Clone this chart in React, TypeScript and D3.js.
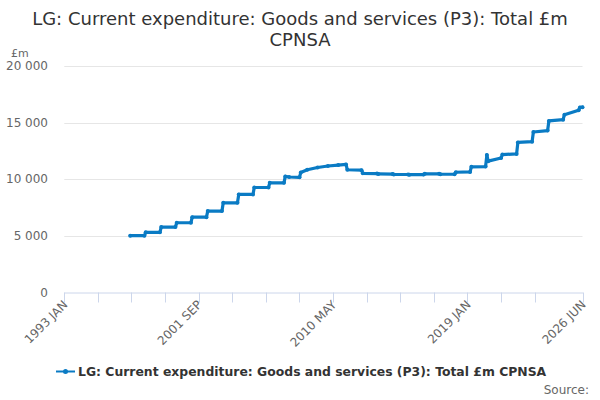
import { useEffect, useRef } from 'react';
import * as d3 from 'd3';

const titleLines = ['LG: Current expenditure: Goods and services (P3): Total £m', 'CPNSA'];
const seriesName = 'LG: Current expenditure: Goods and services (P3): Total £m CPNSA';
const unitLabel = '£m';
const sourceLabel = 'Source:';

// monthly categories, 1993 JAN .. 2026 JUN
const months = d3
  .utcMonth.range(new Date(Date.UTC(1993, 0, 1)), new Date(Date.UTC(2026, 6, 1)))
  .map((d) => d3.utcFormat('%Y %b')(d).toUpperCase());

// vertices of the series
const pointMonths = [
  '1997 APR', '1998 MAR', '1998 APR', '1999 MAR', '1999 APR', '2000 MAR',
  '2000 APR', '2001 MAR', '2001 APR', '2002 MAR', '2002 APR', '2003 MAR',
  '2003 APR', '2004 MAR', '2004 APR', '2005 MAR', '2005 APR', '2006 MAR',
  '2006 APR', '2007 MAR', '2007 APR', '2007 JUL', '2008 MAR',
  '2008 APR', '2008 SEP', '2009 MAY', '2010 JAN', '2010 SEP', '2011 MAR',
  '2011 APR', '2012 MAR', '2012 APR', '2013 MAR', '2013 APR', '2014 MAR',
  '2014 APR', '2015 MAR', '2015 APR', '2016 MAR', '2016 APR', '2017 MAR',
  '2017 APR', '2018 MAR', '2018 APR', '2019 MAR', '2019 APR', '2020 MAR',
  '2020 APR', '2020 MAY', '2021 MAR', '2021 APR', '2022 MAR',
  '2022 APR', '2023 MAR', '2023 APR', '2024 MAR', '2024 APR', '2025 MAR',
  '2025 APR', '2026 MAR', '2026 APR', '2026 JUN',
];
const pointValues = [
  5020, 5020, 5310, 5310, 5780, 5780,
  6160, 6160, 6650, 6650, 7190, 7190,
  7920, 7920, 8660, 8660, 9270, 9270,
  9680, 9680, 10250, 10200, 10170,
  10600, 10840, 11040, 11170, 11250, 11310,
  10840, 10800, 10520, 10500, 10470, 10460,
  10420, 10420, 10400, 10410, 10480, 10480,
  10440, 10450, 10620, 10650, 11100, 11120,
  12150, 11600, 11880, 12180, 12240,
  13250, 13320, 14170, 14300, 15150, 15260,
  15700, 16100, 16340, 16360,
];

const yTicks = [0, 5000, 10000, 15000, 20000];
const xLabels = ['1993 JAN', '2001 SEP', '2010 MAY', '2019 JAN', '2026 JUN'];
const tickEvery = 26;

export default function App() {
  const svgRef = useRef<SVGSVGElement>(null);

  useEffect(() => {
    if (!svgRef.current) return;
    const width = 600;
    const height = 400;
    const left = 64.3;
    const right = 582.5;
    const top = 66;
    const bottom = 292.5;
    const blue = '#0a7bc4';
    const font = '"DejaVu Sans", sans-serif';

    const svg = d3.select(svgRef.current);
    svg.selectAll('*').remove();
    svg.attr('width', width).attr('height', height).style('font-family', font);

    const x = d3.scalePoint<string>().domain(months).range([left, right]).padding(0);
    const y = d3.scaleLinear().domain([0, 20000]).range([bottom, top]);
    const fmt = d3.formatLocale({ decimal: '.', thousands: ' ', grouping: [3], currency: ['', ''] }).format(',');

    // Title
    svg.append('text')
      .attr('x', 300)
      .attr('text-anchor', 'middle')
      .attr('fill', '#333')
      .attr('font-size', 18)
      .selectAll('tspan')
      .data(titleLines)
      .join('tspan')
      .attr('x', 300)
      .attr('y', (_, i) => 24.5 + i * 21)
      .text((d) => d);

    // Unit label
    svg.append('text')
      .attr('x', 11)
      .attr('y', 57)
      .attr('fill', '#666')
      .attr('font-size', 11)
      .text(unitLabel);

    // Grid lines + y labels
    const yAxis = svg.append('g');
    yAxis.selectAll('line')
      .data(yTicks.filter((t) => t > 0))
      .join('line')
      .attr('x1', left)
      .attr('x2', right)
      .attr('y1', (d) => Math.round(y(d)) + 0.5)
      .attr('y2', (d) => Math.round(y(d)) + 0.5)
      .attr('stroke', '#e6e6e6');
    yAxis.selectAll('text')
      .data(yTicks)
      .join('text')
      .attr('x', 48)
      .attr('y', (d) => y(d) + 4)
      .attr('text-anchor', 'end')
      .attr('fill', '#666')
      .attr('font-size', 12)
      .text((d) => fmt(d));

    // X axis
    const tickIdx = d3.range(0, months.length - tickEvery / 2, tickEvery).concat([months.length - 1]);
    const xAxis = svg.append('g');
    xAxis.append('line')
      .attr('x1', left)
      .attr('x2', right + 0.5)
      .attr('y1', bottom + 0.5)
      .attr('y2', bottom + 0.5)
      .attr('stroke', '#ccd6eb');
    xAxis.selectAll('line.tick')
      .data(tickIdx)
      .join('line')
      .attr('class', 'tick')
      .attr('x1', (i) => Math.round(x(months[i]) ?? 0) + 0.5)
      .attr('x2', (i) => Math.round(x(months[i]) ?? 0) + 0.5)
      .attr('y1', bottom)
      .attr('y2', bottom + 10)
      .attr('stroke', '#ccd6eb');
    xAxis.selectAll('text')
      .data(xLabels)
      .join('text')
      .attr('transform', (d) => `translate(${(x(d) ?? 0) + 4},${bottom + 13}) rotate(-45)`)
      .attr('text-anchor', 'end')
      .attr('fill', '#666')
      .attr('font-size', 12)
      .text((d) => d);

    // Series
    const pts = pointMonths.map((m, i) => ({ m, v: pointValues[i] }));
    const line = d3.line<{ m: string; v: number }>()
      .x((d) => x(d.m) ?? 0)
      .y((d) => y(d.v));
    svg.append('path')
      .datum(pts)
      .attr('d', line)
      .attr('fill', 'none')
      .attr('stroke', blue)
      .attr('stroke-width', 3.2)
      .attr('stroke-linejoin', 'round')
      .attr('stroke-linecap', 'round');
    svg.append('g')
      .selectAll('circle')
      .data(pts)
      .join('circle')
      .attr('cx', (d) => x(d.m) ?? 0)
      .attr('cy', (d) => y(d.v))
      .attr('r', 2)
      .attr('fill', blue);

    // Legend
    const lg = svg.append('g');
    lg.append('line')
      .attr('x1', 56)
      .attr('x2', 75)
      .attr('y1', 371.5)
      .attr('y2', 371.5)
      .attr('stroke', blue)
      .attr('stroke-width', 2);
    lg.append('circle').attr('cx', 65.5).attr('cy', 371.5).attr('r', 2.5).attr('fill', blue);
    lg.append('text')
      .attr('x', 78)
      .attr('y', 376)
      .attr('fill', '#333')
      .attr('font-size', 12.4)
      .attr('font-weight', 'bold')
      .text(seriesName);

    // Source
    svg.append('text')
      .attr('x', 589)
      .attr('y', 394)
      .attr('text-anchor', 'end')
      .attr('fill', '#666')
      .attr('font-size', 12)
      .text(sourceLabel);
  }, []);

  return (
    <div style={{ position: 'absolute', left: 0, top: 0 }}>
      <svg ref={svgRef} style={{ display: 'block' }} />
    </div>
  );
}
